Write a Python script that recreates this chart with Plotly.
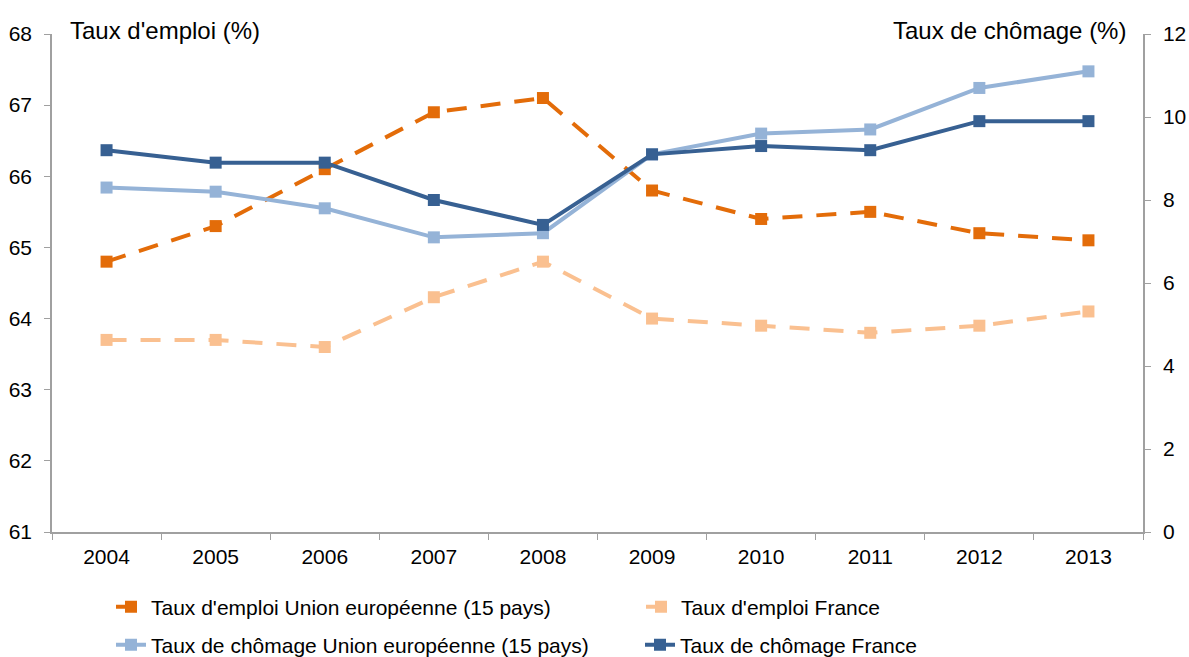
import plotly.graph_objects as go

years = ["2004", "2005", "2006", "2007", "2008", "2009", "2010", "2011", "2012", "2013"]
emploi_ue = [64.8, 65.3, 66.1, 66.9, 67.1, 65.8, 65.4, 65.5, 65.2, 65.1]
emploi_fr = [63.7, 63.7, 63.6, 64.3, 64.8, 64.0, 63.9, 63.8, 63.9, 64.1]
chomage_ue = [8.3, 8.2, 7.8, 7.1, 7.2, 9.1, 9.6, 9.7, 10.7, 11.1]
chomage_fr = [9.2, 8.9, 8.9, 8.0, 7.4, 9.1, 9.3, 9.2, 9.9, 9.9]

names = ["Taux d'emploi Union européenne (15 pays)", "Taux d'emploi France",
         "Taux de chômage Union européenne (15 pays)", "Taux de chômage France"]
colors = ["#E36C09", "#FAC090", "#95B3D7", "#376092"]

FONT = "Liberation Sans, Arial, sans-serif"
W, H = 1189, 657
fig = go.Figure()
series = [(emploi_ue, "y", "20px,14px", "legend"), (emploi_fr, "y", "20px,14px", "legend2"),
          (chomage_ue, "y2", "solid", "legend3"), (chomage_fr, "y2", "solid", "legend4")]
for (vals, ax, dash, leg), name, col in zip(series, names, colors):
    fig.add_trace(go.Scatter(
        x=years, y=vals, name=name, yaxis=ax, mode="lines+markers",
        line=dict(color=col, width=4, dash=dash),
        marker=dict(symbol="square", size=12, color=col),
        legend=leg,
    ))

axis_col = "#A0A0A0"

def leg(xpx, ypx):
    return dict(orientation="h", xref="container", yref="container",
                x=xpx / W, xanchor="left", y=(H - ypx) / H, yanchor="middle",
                font=dict(size=21), bgcolor="rgba(0,0,0,0)")

fig.update_layout(
    width=W, height=H,
    margin=dict(l=52, r=46, t=34, b=125),
    plot_bgcolor="white", paper_bgcolor="white",
    font=dict(family=FONT, size=21, color="#000000"),
    xaxis=dict(type="category", showgrid=False, showline=True, linecolor=axis_col, linewidth=1.5,
               ticks="outside", tickson="boundaries", ticklen=6, tickcolor=axis_col,
               tickfont=dict(size=21), range=[-0.5, 9.5], automargin=False, ticklabelstandoff=5),
    yaxis=dict(range=[61, 68], dtick=1, showgrid=False, showline=True, linecolor=axis_col, linewidth=1.5,
               ticks="outside", ticklen=6, tickcolor=axis_col, zeroline=False,
               tickfont=dict(size=21), ticklabelstandoff=8, automargin=False),
    yaxis2=dict(range=[0, 12], dtick=2, overlaying="y", side="right", showgrid=False, showline=True,
                linecolor=axis_col, linewidth=1.5, ticks="outside", ticklen=6, tickcolor=axis_col,
                zeroline=False, tickfont=dict(size=21), ticklabelstandoff=8, automargin=False),
    legend=leg(111, 607),
    legend2=leg(641, 607),
    legend3=leg(111, 645),
    legend4=leg(640, 645),
    showlegend=True,
)
fig.add_annotation(text="Taux d'emploi (%)", xref="paper", yref="paper", x=(68 - 52) / 1091, y=1.0,
                   xanchor="left", yanchor="middle", showarrow=False, font=dict(size=24), yshift=4)
fig.add_annotation(text="Taux de chômage (%)", xref="paper", yref="paper", x=(1128 - 52) / 1091, y=1.0,
                   xanchor="right", yanchor="middle", showarrow=False, font=dict(size=24), yshift=4)

fig.write_html("out.html", config={"displayModeBar": False},
               post_script="document.body.style.margin='0';document.body.style.overflow='hidden';")
